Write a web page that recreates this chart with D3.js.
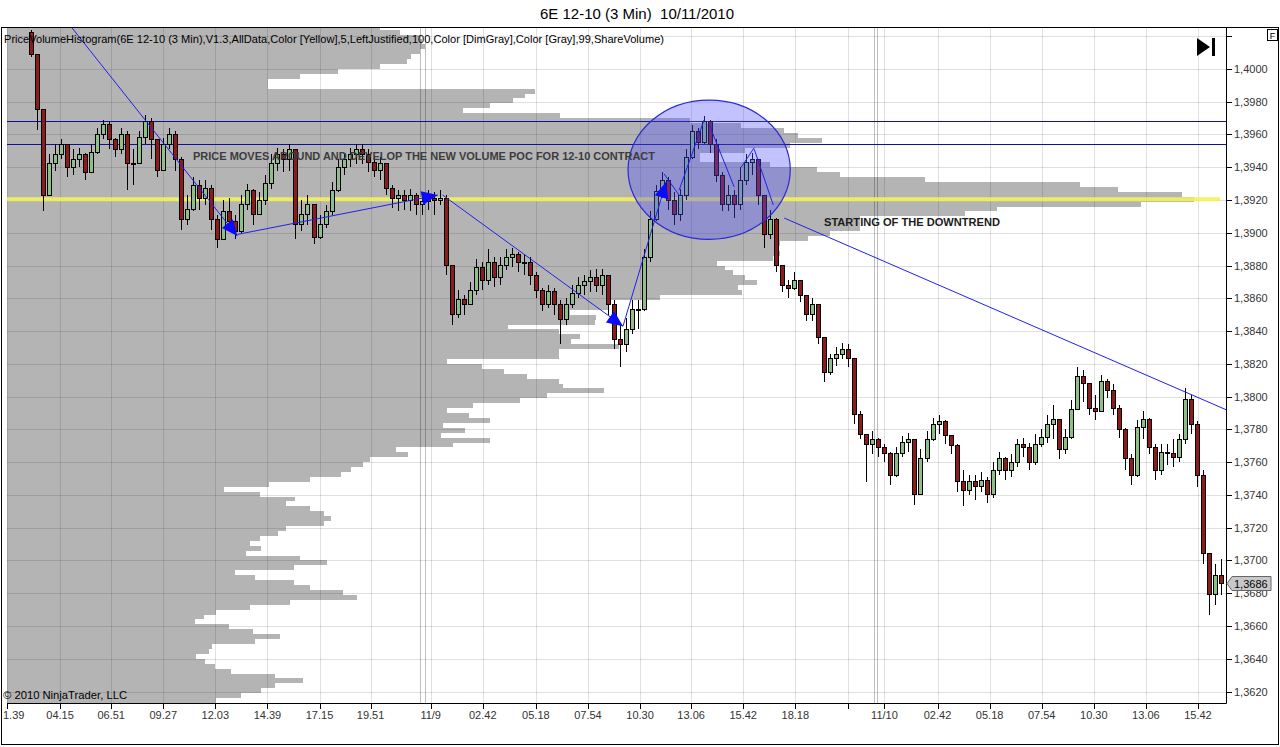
<!DOCTYPE html>
<html>
<head>
<meta charset="utf-8">
<script src="https://cdn.jsdelivr.net/npm/d3@7"></script>
<style>
  body { margin: 0; background: #fff; }
  svg { display: block; font-family: "Liberation Sans", Arial, sans-serif; }
</style>
</head>
<body>
<script>
const width = 1280, height = 747;
const plot = { left: 7, right: 1226, top: 28, bottom: 703 };

// price axis (right side)
const priceTicks = [1.3620, 1.3640, 1.3660, 1.3680, 1.3700, 1.3720, 1.3740, 1.3760, 1.3780, 1.3800,
  1.3820, 1.3840, 1.3860, 1.3880, 1.3900, 1.3920, 1.3940, 1.3960, 1.3980, 1.4000, 1.4020];

// time axis, positions in 3-min bars from the first bar
// (first label is shown cut by the frame in the original, so only "1.39" is visible)
const timeLabels = ["1.39", "04.15", "06.51", "09.27", "12.03", "14.39", "17.15", "19.51", "11/9",
  "02.42", "05.18", "07.54", "10.30", "13.06", "15.42", "18.18", "", "11/10",
  "02.42", "05.18", "07.54", "10.30", "13.06", "15.42"];
const timeBars = [0, 53, 104, 156, 208, 260, 312, 363, 423, 475, 528, 580, 632, 683, 735, 787, 840, 876,
  929, 981, 1033, 1085, 1137, 1189];
const sessionBars = [412, 417, 866, 869];

// candles (price x 10000), one every 6 bars starting at bar 24
const barStart = 24, barStep = 6;
const firstOpen = 14022;
const closes = [
  14009,13975,13923,13942,13948,13954,13940,13945,13948,13937,
  13949,13960,13966,13957,13951,13960,13942,13942,13958,13968,
  13957,13938,13954,13960,13945,13908,13914,13929,13921,13927,
  13908,13896,13913,13907,13901,13917,13926,13911,13920,13930,
  13942,13948,13945,13951,13905,13911,13917,13897,13905,13913,
  13926,13940,13945,13948,13951,13948,13943,13938,13942,13927,
  13921,13923,13920,13923,13917,13919,13921,13920,13921,13880,
  13850,13859,13856,13865,13879,13871,13882,13873,13880,13885,
  13887,13882,13882,13874,13865,13856,13864,13856,13847,13856,
  13863,13868,13870,13873,13868,13874,13856,13835,13832,13841,
  13853,13853,13885,13908,13925,13932,13920,13911,13923,13946,
  13962,13955,13968,13954,13935,13917,13923,13917,13932,13943,
  13945,13923,13899,13908,13880,13868,13866,13871,13862,13850,
  13856,13836,13815,13823,13826,13829,13823,13789,13777,13771,
  13774,13769,13765,13752,13765,13772,13774,13740,13762,13774,
  13783,13785,13776,13770,13748,13743,13748,13745,13749,13740,
  13755,13762,13755,13760,13771,13769,13760,13771,13775,13783,
  13786,13768,13775,13792,13812,13808,13793,13791,13809,13804,
  13793,13780,13762,13752,13781,13786,13769,13755,13766,13765,
  13763,13774,13798,13783,13752,13704,13679,13691,13686];
const highs = [
  14024,13984,13957,13948,13954,13957,13952,13951,13952,13949,
  13954,13964,13969,13968,13958,13964,13962,13951,13962,13972,
  13970,13957,13958,13964,13962,13946,13923,13934,13932,13932,
  13929,13911,13920,13921,13911,13923,13930,13927,13925,13935,
  13948,13952,13951,13954,13951,13920,13923,13917,13911,13917,
  13931,13945,13949,13952,13954,13954,13951,13946,13946,13941,
  13929,13926,13926,13927,13924,13923,13926,13925,13926,13923,
  13880,13865,13862,13870,13884,13882,13890,13885,13885,13890,
  13891,13888,13887,13885,13876,13866,13868,13866,13859,13860,
  13868,13873,13874,13877,13878,13878,13874,13859,13844,13848,
  13859,13859,13890,13913,13929,13937,13934,13925,13927,13951,
  13966,13964,13971,13969,13957,13937,13929,13926,13940,13948,
  13949,13945,13923,13914,13909,13880,13871,13876,13871,13862,
  13860,13856,13836,13826,13830,13833,13832,13823,13791,13777,
  13779,13775,13771,13766,13769,13776,13778,13774,13768,13779,
  13787,13789,13786,13775,13771,13755,13752,13752,13754,13751,
  13760,13766,13763,13765,13774,13775,13772,13777,13780,13789,
  13795,13786,13780,13798,13818,13816,13808,13801,13813,13811,
  13808,13795,13781,13765,13786,13791,13787,13771,13771,13771,
  13774,13777,13805,13801,13785,13755,13704,13698,13701];
const lows = [
  14007,13963,13913,13926,13938,13945,13934,13935,13940,13932,
  13937,13948,13957,13951,13946,13948,13926,13929,13942,13954,
  13945,13934,13938,13951,13938,13902,13905,13913,13914,13917,
  13902,13891,13896,13902,13896,13899,13914,13905,13911,13917,
  13927,13938,13937,13938,13896,13901,13905,13893,13896,13903,
  13911,13925,13935,13940,13942,13942,13937,13934,13932,13923,
  13915,13913,13914,13913,13911,13911,13914,13911,13917,13874,
  13844,13848,13850,13856,13862,13865,13868,13867,13868,13877,
  13879,13876,13874,13868,13860,13852,13854,13850,13832,13844,
  13854,13860,13862,13864,13864,13862,13850,13829,13818,13827,
  13838,13841,13852,13882,13907,13921,13914,13905,13907,13920,
  13945,13951,13954,13949,13931,13913,13913,13909,13914,13929,
  13935,13917,13891,13896,13876,13864,13860,13865,13858,13846,
  13846,13832,13809,13813,13819,13823,13818,13783,13774,13748,
  13765,13763,13760,13746,13751,13763,13766,13734,13740,13760,
  13773,13777,13771,13765,13742,13733,13740,13737,13742,13735,
  13738,13752,13749,13751,13757,13763,13755,13758,13769,13772,
  13774,13762,13765,13774,13792,13797,13789,13786,13791,13799,
  13789,13775,13755,13746,13751,13774,13765,13749,13752,13758,
  13757,13760,13771,13777,13745,13698,13667,13673,13679];
const lastPrice = 1.3686;

// volume profile, % of POC, bins of 0.0003 from 1.3613 upward
const histStart = 1.3613, histStep = 0.0003;
const histVolume = [
  17.6,19.7,21.4,22.6,24.9,22.6,18.9,17.5,16.7,15.9,
  17.0,17.3,20.9,23.0,20.7,18.7,15.8,16.6,17.6,20.5,
  23.8,29.5,28.3,25.5,24.2,20.9,19.2,24.2,27.0,24.7,
  20.1,21.4,20.5,21.3,22.8,23.5,26.7,27.3,26.7,25.5,
  23.5,24.3,21.3,18.3,22.1,25.5,28.1,29.0,30.0,30.6,
  33.8,32.8,37.6,40.7,36.6,38.6,36.7,40.7,38.9,37.1,
  39.3,43.2,45.5,50.3,46.8,46.5,43.8,41.9,40.0,37.1,
  46.5,46.5,51.6,47.5,48.3,46.5,42.2,49.5,49.6,47.4,
  50.6,50.5,55.0,61.9,61.6,63.2,62.2,61.2,60.5,59.8,
  64.5,65.1,64.9,65.1,67.5,69.3,71.9,71.9,71.9,80.7,
  83.4,95.5,100,99.0,93.6,90.4,77.3,70.2,68.2,64.3,
  58.4,58.4,62.2,66.0,68.7,66.6,65.5,61.8,57.5,46.6,
  38.4,40.7,42.6,43.6,44.5,22.0,22.0,24.7,27.9,31.4,
  33.7,34.0,34.8,35.2,35.0,34.8,33.1,31.4];

// drawing objects
const levelLines = [1.3968, 1.3954];
const drawnLines = [ // bar0, price0, bar1, price1, arrow at end
  [65, 1.4025, 230, 1.3898, true],
  [230, 1.3899, 430, 1.3923, true],
  [435, 1.3923, 615, 1.3843, true],
  [615, 1.3843, 658, 1.3931, true],
  [656, 1.3936, 671, 1.3923, false],
  [671, 1.3926, 696, 1.3969, false],
  [701, 1.3966, 726, 1.3928, false],
  [733, 1.3940, 746, 1.3952, false],
  [746, 1.3951, 765, 1.3917, false],
  [776, 1.3909, 1219, 1.37915, false]
];
const ellipseBox = [620, 782, 1.3981, 1.3896];

const y = d3.scaleLinear().domain([1.3613, 1.4025]).range([plot.bottom, plot.top]);
const x = d3.scaleLinear().domain([0, 1217]).range([plot.left, plot.right]);
const hx = d3.scaleLinear().domain([0, 100]).range([plot.left, 1194]);
const fmt = v => d3.format(".4f")(v).replace(".", ",");

const svg = d3.select("body").append("svg")
  .attr("width", width).attr("height", height);

svg.append("defs").append("clipPath").attr("id", "plotClip")
  .append("rect")
  .attr("x", plot.left).attr("y", plot.top)
  .attr("width", plot.right - plot.left).attr("height", plot.bottom - plot.top);

// title + frame
svg.append("text")
  .attr("x", 637).attr("y", 19)
  .attr("text-anchor", "middle")
  .attr("font-size", 15)
  .style("white-space", "pre")
  .text("6E 12-10 (3 Min)  10/11/2010");

svg.append("rect")
  .attr("x", 1.5).attr("y", 27.5).attr("width", 1277).attr("height", 717)
  .attr("fill", "none").attr("stroke", "#000");

const g = svg.append("g").attr("clip-path", "url(#plotClip)");

// volume histogram
g.append("g").attr("shape-rendering", "crispEdges")
  .selectAll("rect")
  .data(histVolume)
  .enter().append("rect")
  .attr("x", plot.left)
  .attr("y", (d, i) => Math.round(y(histStart + histStep * (i + 1))))
  .attr("width", d => Math.round(hx(d)) - plot.left)
  .attr("height", (d, i) => Math.round(y(histStart + histStep * i)) - Math.round(y(histStart + histStep * (i + 1))))
  .attr("fill", "#b4b4b4");

// grid
g.selectAll("line.hgrid")
  .data(priceTicks)
  .enter().append("line")
  .attr("x1", plot.left).attr("x2", plot.right)
  .attr("y1", d => Math.round(y(d)) + 0.5).attr("y2", d => Math.round(y(d)) + 0.5)
  .attr("stroke", "#000").attr("stroke-opacity", 0.12);

g.selectAll("line.vgrid")
  .data(timeBars)
  .enter().append("line")
  .attr("x1", d => Math.round(x(d)) + 0.5).attr("x2", d => Math.round(x(d)) + 0.5)
  .attr("y1", plot.top).attr("y2", plot.bottom)
  .attr("stroke", "#000").attr("stroke-opacity", 0.12);

g.selectAll("line.session")
  .data(sessionBars)
  .enter().append("line")
  .attr("x1", d => Math.round(x(d)) + 0.5).attr("x2", d => Math.round(x(d)) + 0.5)
  .attr("y1", plot.top).attr("y2", plot.bottom)
  .attr("stroke", "#000").attr("stroke-opacity", 0.25);

// POC line
const pocIndex = histVolume.indexOf(d3.max(histVolume));
const pocPrice = histStart + histStep * (pocIndex + 0.5);
g.append("line")
  .attr("x1", plot.left).attr("x2", 1220)
  .attr("y1", y(pocPrice)).attr("y2", y(pocPrice))
  .attr("stroke", "#f4f25a").attr("stroke-width", 4).attr("stroke-opacity", 0.9);

// horizontal drawn levels
g.selectAll("line.level")
  .data(levelLines)
  .enter().append("line")
  .attr("x1", plot.left).attr("x2", plot.right)
  .attr("y1", d => Math.round(y(d)) + 0.5).attr("y2", d => Math.round(y(d)) + 0.5)
  .attr("stroke", "#10109a");

// candles
const candles = closes.map((c, i) => ({
  bar: barStart + i * barStep,
  open: (i ? closes[i - 1] : firstOpen) / 10000,
  close: c / 10000,
  high: highs[i] / 10000,
  low: lows[i] / 10000
}));

const cg = g.append("g").attr("shape-rendering", "crispEdges");
cg.selectAll("line.wick")
  .data(candles)
  .enter().append("line")
  .attr("x1", d => Math.round(x(d.bar)) + 0.5).attr("x2", d => Math.round(x(d.bar)) + 0.5)
  .attr("y1", d => y(d.high)).attr("y2", d => y(d.low))
  .attr("stroke", "#000");

cg.selectAll("rect.body")
  .data(candles)
  .enter().append("rect")
  .attr("x", d => Math.round(x(d.bar)) - 1.5)
  .attr("width", 4)
  .attr("y", d => y(Math.max(d.open, d.close)))
  .attr("height", d => Math.max(1, Math.abs(y(d.open) - y(d.close))))
  .attr("fill", d => d.close >= d.open ? "#8fbf88" : "#8e1b1b")
  .attr("stroke", "#000").attr("stroke-width", 1);

// ellipse
g.append("ellipse")
  .attr("cx", (x(ellipseBox[0]) + x(ellipseBox[1])) / 2)
  .attr("cy", (y(ellipseBox[2]) + y(ellipseBox[3])) / 2)
  .attr("rx", (x(ellipseBox[1]) - x(ellipseBox[0])) / 2)
  .attr("ry", (y(ellipseBox[3]) - y(ellipseBox[2])) / 2)
  .attr("fill", "#5050ff").attr("fill-opacity", 0.35)
  .attr("stroke", "#2a2ad0").attr("stroke-width", 1.2);

// drawn lines and arrows
drawnLines.forEach(([b0, p0, b1, p1, head]) => {
  const x0 = x(b0), y0 = y(p0), x1 = x(b1), y1 = y(p1);
  g.append("line")
    .attr("x1", x0).attr("y1", y0).attr("x2", x1).attr("y2", y1)
    .attr("stroke", "#2020ee").attr("stroke-width", 1);
  if (head) {
    const a = Math.atan2(y1 - y0, x1 - x0);
    const len = 16, half = 7;
    const bx = x1 - len * Math.cos(a), by = y1 - len * Math.sin(a);
    const pts = [
      [x1, y1],
      [bx + half * Math.sin(a), by - half * Math.cos(a)],
      [bx - half * Math.sin(a), by + half * Math.cos(a)]
    ];
    g.append("polygon").attr("points", pts.map(p => p.join(",")).join(" "))
      .attr("fill", "#0a0aff");
  }
});

// texts inside plot
svg.append("text")
  .attr("x", 4).attr("y", 43)
  .attr("font-size", 11)
  .attr("textLength", 660).attr("lengthAdjust", "spacingAndGlyphs")
  .text("PriceVolumeHistogram(6E 12-10 (3 Min),V1.3,AllData,Color [Yellow],5,LeftJustified,100,Color [DimGray],Color [Gray],99,ShareVolume)");

svg.append("text")
  .attr("x", 193).attr("y", 160)
  .attr("font-size", 11).attr("font-weight", "bold").attr("fill", "#3c3c3c")
  .attr("textLength", 462).attr("lengthAdjust", "spacingAndGlyphs")
  .text("PRICE MOVES AROUND AND DEVELOP THE NEW VOLUME POC FOR 12-10 CONTRACT");

svg.append("text")
  .attr("x", 824).attr("y", 226)
  .attr("font-size", 11).attr("font-weight", "bold").attr("fill", "#1c1c1c")
  .attr("textLength", 176).attr("lengthAdjust", "spacingAndGlyphs")
  .text("STARTING OF THE DOWNTREND");

svg.append("text")
  .attr("x", 3).attr("y", 699)
  .attr("font-size", 11)
  .attr("textLength", 124).attr("lengthAdjust", "spacingAndGlyphs")
  .text("© 2010 NinjaTrader, LLC");

// axes lines
svg.append("line")
  .attr("x1", plot.right + 0.5).attr("x2", plot.right + 0.5)
  .attr("y1", plot.top).attr("y2", plot.bottom + 0.5)
  .attr("stroke", "#000");
svg.append("line")
  .attr("x1", plot.left).attr("x2", plot.right + 0.5)
  .attr("y1", plot.bottom + 0.5).attr("y2", plot.bottom + 0.5)
  .attr("stroke", "#000");

// price ticks
const yAxis = svg.append("g");
yAxis.selectAll("line")
  .data(priceTicks)
  .enter().append("line")
  .attr("x1", plot.right).attr("x2", plot.right + 6)
  .attr("y1", d => Math.round(y(d)) + 0.5).attr("y2", d => Math.round(y(d)) + 0.5)
  .attr("stroke", "#000");
yAxis.selectAll("text")
  .data(priceTicks.filter(d => y(d) > 50))
  .enter().append("text")
  .attr("x", plot.right + 8).attr("y", d => y(d) + 4)
  .attr("font-size", 11).attr("fill", "#333")
  .text(fmt);

// last price tag
const ly = Math.round(y(lastPrice)) + 0.5;
svg.append("polygon")
  .attr("points", `${plot.right + 1},${ly} ${plot.right + 6},${ly - 7} ${1271},${ly - 7} ${1271},${ly + 7} ${plot.right + 6},${ly + 7}`)
  .attr("fill", "#c8c8c8").attr("stroke", "#666");
svg.append("text")
  .attr("x", plot.right + 8).attr("y", ly + 4)
  .attr("font-size", 11).attr("fill", "#000")
  .text(fmt(lastPrice));

// time ticks
const xAxis = svg.append("g");
xAxis.selectAll("line")
  .data(timeBars)
  .enter().append("line")
  .attr("x1", d => Math.round(x(d)) + 0.5).attr("x2", d => Math.round(x(d)) + 0.5)
  .attr("y1", plot.bottom).attr("y2", plot.bottom + 6)
  .attr("stroke", "#000");
xAxis.selectAll("text")
  .data(timeBars)
  .enter().append("text")
  .attr("x", (d, i) => i === 0 ? 3 : x(d))
  .attr("y", plot.bottom + 16)
  .attr("text-anchor", (d, i) => i === 0 ? "start" : "middle")
  .attr("font-size", 11).attr("fill", "#333")
  .text((d, i) => timeLabels[i]);

// toolbar glyphs top right
svg.append("path")
  .attr("d", "M1197,38 L1210,47 L1197,56 Z")
  .attr("fill", "#000");
svg.append("rect").attr("x", 1212).attr("y", 38).attr("width", 3).attr("height", 18).attr("fill", "#000");
svg.append("rect").attr("x", 1267.5).attr("y", 29.5).attr("width", 10).attr("height", 11)
  .attr("fill", "#fff").attr("stroke", "#000");
svg.append("text").attr("x", 1272.5).attr("y", 38.5).attr("text-anchor", "middle")
  .attr("font-size", 9).text("F");
</script>
</body>
</html>
